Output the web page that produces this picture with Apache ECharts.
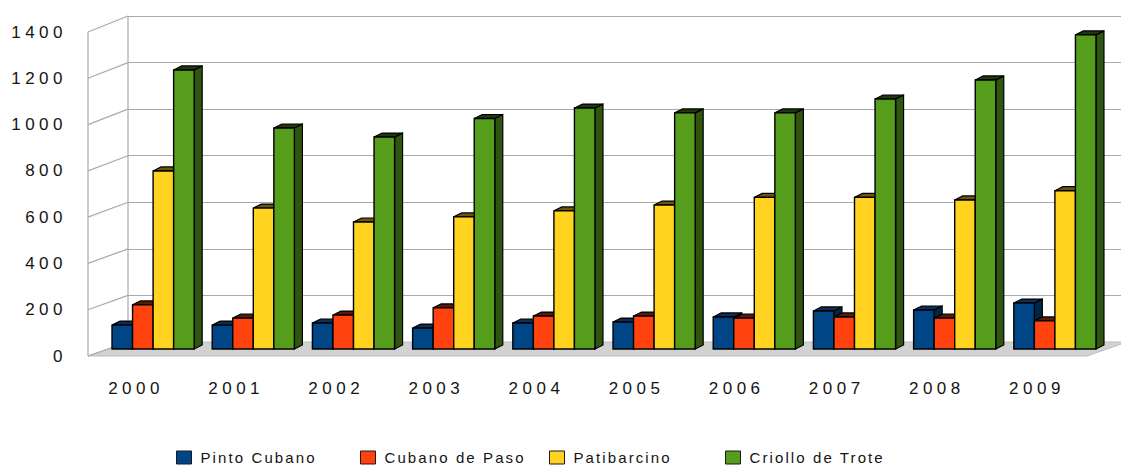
<!DOCTYPE html>
<html>
<head>
<meta charset="utf-8">
<script src="https://cdn.jsdelivr.net/npm/echarts@6/dist/echarts.min.js"></script>
<style>
  html, body { margin: 0; padding: 0; background: #fff; }
  #chart { width: 1121px; height: 466px; }
  /* wide, spaced lettering for axis labels and legend */
  #chart text[style*="17px"] { letter-spacing: 4.5px; }
  #chart text[style*="15px"] { letter-spacing: 2.1px; }
</style>
</head>
<body>
<div id="chart"></div>
<script>
// Registered horses per year and breed
const years = ['2000', '2001', '2002', '2003', '2004', '2005', '2006', '2007', '2008', '2009'];
const pintoCubano    = [103, 103, 112,  90, 112, 116,  138,  164,  168,  198];
const cubanoDePaso   = [190, 133, 146, 177, 142, 142,  133,  138,  133,  121];
const patibarcino    = [767, 607, 547, 569, 595, 620,  653,  653,  642,  682];
const criolloDeTrote = [1202, 952, 913, 993, 1038, 1017, 1017, 1077, 1159, 1353];

const valueMin = 0;
const valueMax = 1400;
const valueStep = 200;

const seriesNames = ['Pinto Cubano', 'Cubano de Paso', 'Patibarcino', 'Criollo de Trote'];
const seriesData = [pintoCubano, cubanoDePaso, patibarcino, criolloDeTrote];
const faceColors = ['#004586', '#ff420e', '#ffd320', '#579d1c'];
const sideColors = ['#00264a', '#8c2408', '#8c7412', '#2f5510'];
const topColors  = ['#0b2f57', '#5a1a08', '#6a5610', '#20380c'];

const FONT = "'Liberation Sans', Arial, sans-serif";
const TEXT = '#141414';

// Depth offset of the bar blocks (side and top faces)
const DEPTH_X = 8, DEPTH_Y = -4;

function barRenderer(k) {
  return function (params, api) {
    const cat = api.value(0);
    const base = api.coord([cat, 0]);
    const tip = api.coord([cat, api.value(1)]);
    const bw = api.size([1, 0])[0] * 0.205;
    const x0 = base[0] + (k - 2) * bw;
    const x1 = x0 + bw;
    const yb = base[1], yt = tip[1];
    return {
      type: 'group',
      children: [
        { type: 'polygon',
          shape: { points: [[x1, yb], [x1 + DEPTH_X, yb + DEPTH_Y], [x1 + DEPTH_X, yt + DEPTH_Y], [x1, yt]] },
          style: { fill: sideColors[k], stroke: '#000', lineWidth: 1.2 } },
        { type: 'polygon',
          shape: { points: [[x0, yt], [x0 + DEPTH_X, yt + DEPTH_Y], [x1 + DEPTH_X, yt + DEPTH_Y], [x1, yt]] },
          style: { fill: topColors[k], stroke: '#000', lineWidth: 1.2 } },
        { type: 'rect',
          shape: { x: x0, y: yt, width: bw, height: yb - yt },
          style: { fill: faceColors[k], stroke: '#000', lineWidth: 1.4 } }
      ]
    };
  };
}

const legendLeft = [176, 360, 549, 725];

const option = {
  animation: false,
  backgroundColor: '#ffffff',
  grid: [
    // back wall
    { left: 128, width: 1000, top: 16, height: 326 },
    // front edge: axis labels
    { left: 86, width: 1001, top: 32, height: 324 },
    // bars, standing halfway into the floor
    { left: 103, width: 1002, top: 24, height: 325 }
  ],
  xAxis: [
    { gridIndex: 0, type: 'category', data: years, show: false },
    { gridIndex: 1, type: 'category', data: years,
      axisLine: { show: false }, axisTick: { show: false },
      axisLabel: { margin: 22, fontSize: 17, lineHeight: 20, color: TEXT, fontFamily: FONT } },
    { gridIndex: 2, type: 'category', data: years, show: false }
  ],
  yAxis: [
    { gridIndex: 0, type: 'value', min: valueMin, max: valueMax, interval: valueStep,
      axisLine: { show: false }, axisTick: { show: false }, axisLabel: { show: false },
      splitLine: { show: true, lineStyle: { color: '#aaaaaa', width: 1.2 } } },
    { gridIndex: 1, type: 'value', min: valueMin, max: valueMax, interval: valueStep,
      axisLine: { show: false }, axisTick: { show: false }, splitLine: { show: false },
      axisLabel: { margin: 19, fontSize: 17, color: TEXT, fontFamily: FONT,
                   formatter: v => String(v) } },
    { gridIndex: 2, type: 'value', min: valueMin, max: valueMax, interval: valueStep, show: false,
      splitLine: { show: false } }
  ],
  legend: seriesNames.map((name, i) => ({
    data: [name],
    left: legendLeft[i],
    top: 450,
    padding: 0,
    itemWidth: 15,
    itemHeight: 13,
    icon: 'rect',
    selectedMode: false,
    itemStyle: { borderColor: '#1a1a1a', borderWidth: 1 },
    textStyle: { fontSize: 15, color: TEXT, fontFamily: FONT, padding: [0, 0, 0, 4] }
  })),
  series: seriesNames.map((name, k) => ({
    type: 'custom',
    name: name,
    xAxisIndex: 2,
    yAxisIndex: 2,
    z: 5,
    itemStyle: { color: faceColors[k] },
    encode: { x: 0, y: 1 },
    data: seriesData[k].map((v, i) => [i, v]),
    renderItem: barRenderer(k)
  }))
};

const chart = echarts.init(document.getElementById('chart'), null, { renderer: 'svg' });
chart.setOption(option);

// Floor and left wall, placed with the axes' own scales
const FRONT_X = 88, WALL_X = 128;
const yFront = v => chart.convertToPixel({ yAxisIndex: 1 }, v);
const yBack = v => chart.convertToPixel({ yAxisIndex: 0 }, v);
const ticks = [];
for (let v = valueMin; v <= valueMax; v += valueStep) ticks.push(v);

const wallLines = [];
wallLines.push({ type: 'line', shape: { x1: FRONT_X, y1: yFront(valueMax), x2: FRONT_X, y2: yFront(valueMin) } });
wallLines.push({ type: 'line', shape: { x1: WALL_X, y1: yBack(valueMax), x2: WALL_X, y2: yBack(valueMin) } });
ticks.forEach(v => {
  wallLines.push({ type: 'line', shape: { x1: FRONT_X, y1: yFront(v), x2: WALL_X, y2: yBack(v) } });
});
wallLines.forEach(l => { l.style = { stroke: '#aaaaaa', lineWidth: 1.2 }; l.z = 1; });

const f0 = yFront(valueMin), b0 = yBack(valueMin);
chart.setOption({
  graphic: [
    { type: 'polygon', z: 1,
      shape: { points: [[FRONT_X, f0], [WALL_X, b0], [1127, b0], [1087, f0]] },
      style: { fill: '#d2d2d2', stroke: '#bdbdbd', lineWidth: 1 } }
  ].concat(wallLines)
});
</script>
</body>
</html>
